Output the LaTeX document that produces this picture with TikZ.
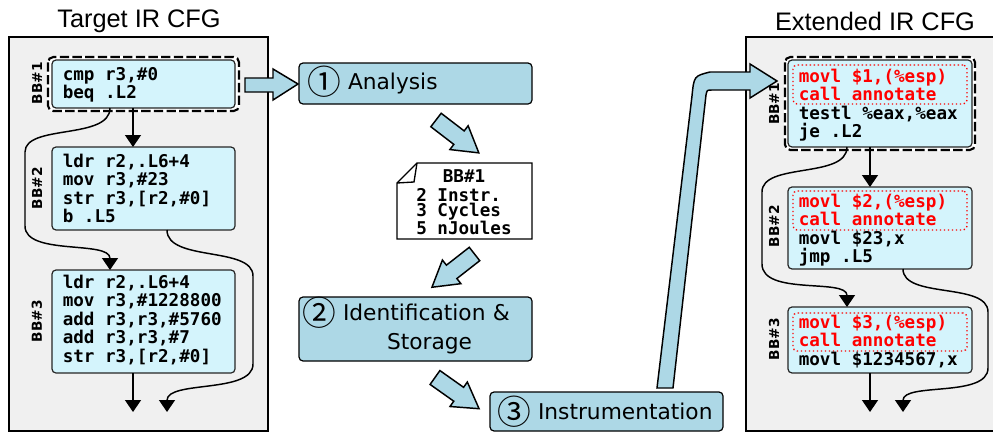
\documentclass[tikz,border=0pt]{standalone}
\usepackage{graphicx}
\usepackage{fontspec}
\setmainfont{DejaVu Sans}
\setmonofont{DejaVu Sans Mono}
\newfontfamily\titlefont{Liberation Sans}
\newfontfamily\cjkfont{Noto Sans CJK SC}
\usetikzlibrary{arrows.meta,calc}

\definecolor{panelgray}{RGB}{240,240,240}
\definecolor{procblue}{RGB}{173,216,230}
\definecolor{codecyan}{RGB}{212,244,252}

\newcommand\codeblock[2][13.9pt]{\vtop{\baselineskip=#1\relax #2}}
\newcommand\cdl[1]{\hbox{#1}}
\newcommand\rdl[1]{\hbox{\color{red}#1}}
\newcommand\circnum[1]{\smash{\raisebox{-3.6pt}{\scalebox{1.55}{\cjkfont #1}}}\hspace{5.5pt}}

\tikzset{
  panel/.style={draw=black, line width=1pt, fill=panelgray},
  codebox/.style={draw=black!85, line width=0.9pt, fill=codecyan, rounded corners=3pt, inner sep=0pt, outer sep=0pt},
  annbox/.style={draw=red, dotted, line width=1pt, rounded corners=3pt, inner sep=0pt, outer sep=0pt},
  codetxt/.style={font=\ttfamily\bfseries\fontsize{13.2}{13.9}\selectfont, anchor=base west, inner sep=0pt},
  bblabel/.style={font=\bfseries\fontsize{10.3}{12}\selectfont, rotate=90, inner sep=0pt},
  titletxt/.style={font=\titlefont\fontsize{19}{22}\selectfont, anchor=base, inner sep=0pt},
  procbox/.style={draw=black, line width=0.9pt, fill=procblue, rounded corners=3pt, anchor=north west, outer sep=0pt, align=left, font=\fontsize{16.3}{21}\selectfont},
  flow/.style={line width=1.1pt, -{Triangle[width=12pt,length=9pt]}},
  barrow/.style={draw=black, line width=1.1pt, fill=procblue, line join=miter},
  notebox/.style={draw=black, line width=1pt, fill=white},
  diagarrow/.pic={\draw[barrow] (0,-8.5) -- (29,-8.5) -- (29,-15) -- (54,0) -- (29,15) -- (29,8.5) -- (0,8.5) -- cycle;}
}

\begin{document}
\begin{tikzpicture}[x=0.75pt,y=-0.75pt]
\useasboundingbox (0,0) rectangle (993,432);
\clip (0,0) rectangle (993,432);

% panels
\draw[panel] (9,37) rectangle (268,431);
\draw[panel] (746,37) rectangle (1010,431);
\node[titletxt] (tl) at (139,27) {Target IR CFG};
\node[titletxt] (tr) at (875,31) {Extended IR CFG};

% dashed frames around BB#1
\draw[white, line width=1.6pt, fill=white, rounded corners=4pt] (48,57) rectangle (239,111);
\draw[black, line width=1.6pt, dash pattern=on 7pt off 2.5pt, rounded corners=4pt] (48,57) rectangle (239,111);
\draw[white, line width=1.6pt, fill=white, rounded corners=4pt] (785,57) rectangle (975,150);
\draw[black, line width=1.6pt, dash pattern=on 7pt off 2.5pt, rounded corners=4pt] (785,57) rectangle (975,150);

% left code boxes
\node[codebox, minimum width=137.25pt, minimum height=36pt] (L1) at (143.5,84) {};
\node[codebox, minimum width=137.25pt, minimum height=62.25pt] (L2) at (143.5,188.5) {};
\node[codebox, minimum width=137.25pt, minimum height=77.25pt] (L3) at (143.5,321.5) {};
\node[codetxt] (L1t) at (62.5,80) {\codeblock{\cdl{cmp r3,\#0}\cdl{beq .L2}}};
\node[codetxt] (L2t) at (62.5,167) {\codeblock{\cdl{ldr r2,.L6+4}\cdl{mov r3,\#23}\cdl{str r3,[r2,\#0]}\cdl{b .L5}}};
\node[codetxt] (L3t) at (62.5,288) {\codeblock{\cdl{ldr r2,.L6+4}\cdl{mov r3,\#1228800}\cdl{add r3,r3,\#5760}\cdl{add r3,r3,\#7}\cdl{str r3,[r2,\#0]}}};
\node[bblabel] (L1l) at (37,83) {BB\#1};
\node[bblabel] (L2l) at (37,188) {BB\#2};
\node[bblabel] (L3l) at (37,321) {BB\#3};

% right code boxes
\node[codebox, minimum width=138pt, minimum height=65.25pt] (R1) at (880,103.5) {};
\node[codebox, minimum width=138pt, minimum height=61.5pt] (R2) at (880,228) {};
\node[codebox, minimum width=138pt, minimum height=49.5pt] (R3) at (880,340) {};
\node[annbox, minimum width=130.5pt, minimum height=29.25pt] (A1) at (880,84.5) {};
\node[annbox, minimum width=130.5pt, minimum height=29.25pt] (A2) at (880,210.5) {};
\node[annbox, minimum width=130.5pt, minimum height=28.5pt] (A3) at (880,332) {};
\node[codetxt] (R1t) at (798.5,82) {\codeblock{\rdl{movl \$1,(\%esp)}\rdl{call annotate}\cdl{testl \%eax,\%eax}\cdl{je .L2}}};
\node[codetxt] (R2t) at (798.5,207) {\codeblock{\rdl{movl \$2,(\%esp)}\rdl{call annotate}\cdl{movl \$23,x}\cdl{jmp .L5}}};
\node[codetxt] (R3t) at (798.5,328) {\codeblock{\rdl{movl \$3,(\%esp)}\rdl{call annotate}\cdl{movl \$1234567,x}}};
\node[bblabel] (R1l) at (774,104) {BB\#1};
\node[bblabel] (R2l) at (774,226) {BB\#2};
\node[bblabel] (R3l) at (774,339) {BB\#3};

% connector columns and free ends
\coordinate (lx0) at (133,0);
\coordinate (lx1) at (110,0);
\coordinate (lx2) at (167,0);
\coordinate (rx0) at (870,0);
\coordinate (rx1) at (847,0);
\coordinate (rx2) at (903,0);
\coordinate (le1) at (133,412);
\coordinate (le2) at (167,412);
\coordinate (re1) at (870,412);
\coordinate (re2) at (903,412);

% left connectors
\draw[flow] (L1.south -| lx0) -- (L2.north -| lx0);
\draw[flow] (L1.south -| lx1) .. controls +(0,32) and (25,124) .. (25,152) -- (25,226) .. controls (25,256) and (110,240) .. (L3.north -| lx1);
\draw[flow] (L2.south -| lx2) .. controls +(0,32) and (253,246) .. (253,276) -- (253,364) .. controls (253,394) and (167,380) .. (le2);
\draw[flow] (L3.south -| lx0) -- (le1);

% right connectors
\draw[flow] (R1.south -| rx0) -- (R2.north -| rx0);
\draw[flow] (R1.south -| rx1) .. controls +(0,32) and (762,162) .. (762,192) -- (762,264) .. controls (762,296) and (847,278) .. (R3.north -| rx1);
\draw[flow] (R2.south -| rx2) .. controls +(0,30) and (988,282) .. (988,312) -- (988,368) .. controls (988,398) and (903,382) .. (re2);
\draw[flow] (R3.south -| rx0) -- (re1);

% process boxes
\node[procbox, inner xsep=6pt, text width=162.75pt, minimum height=30.75pt] (ana) at (299,63) {\circnum{①}Analysis};
\node[procbox, inner xsep=2.25pt, text width=170.25pt, minimum height=48pt] (ids) at (299,297) {\circnum{②}Identification \&\\\hspace*{63.75pt}Storage};
\node[procbox, inner xsep=5.25pt, text width=164.25pt, minimum height=29.25pt] (ins) at (490,392) {\circnum{③}Instrumentation};

% note
\draw[notebox] (417,163) -- (532,163) -- (532,239) -- (397,239) -- (397,183) -- cycle;
\draw[line width=1pt] (397,183) -- (414,182) -- (417,163);
\node[font=\ttfamily\bfseries\fontsize{13.2}{13.9}\selectfont, anchor=base, inner sep=0pt] (nh) at (464,182) {BB\#1};
\node[codetxt] (nt) at (416,201) {\codeblock[11.6pt]{\cdl{2 Instr.}\cdl{3 Cycles}\cdl{5 nJoules}}};

% block arrows
\draw[barrow] (245,78) -- (273,78) -- (273,69) -- (298,84) -- (273,100) -- (273,92) -- (245,92) -- cycle;
\pic[rotate=-37.5] at (436,120) {diagarrow};
\pic[rotate=-142] at (474.5,254) {diagarrow};
\pic[rotate=-35.3] at (435,377.5) {diagarrow};
\draw[barrow] (657,388) -- (692,96) .. controls (694,76) .. (710,72) -- (750,72) -- (750,64) -- (777,81) -- (750,98) -- (750,90) -- (712,90) .. controls (707,90) .. (706,95) -- (673,388) -- cycle;
\end{tikzpicture}
\end{document}
